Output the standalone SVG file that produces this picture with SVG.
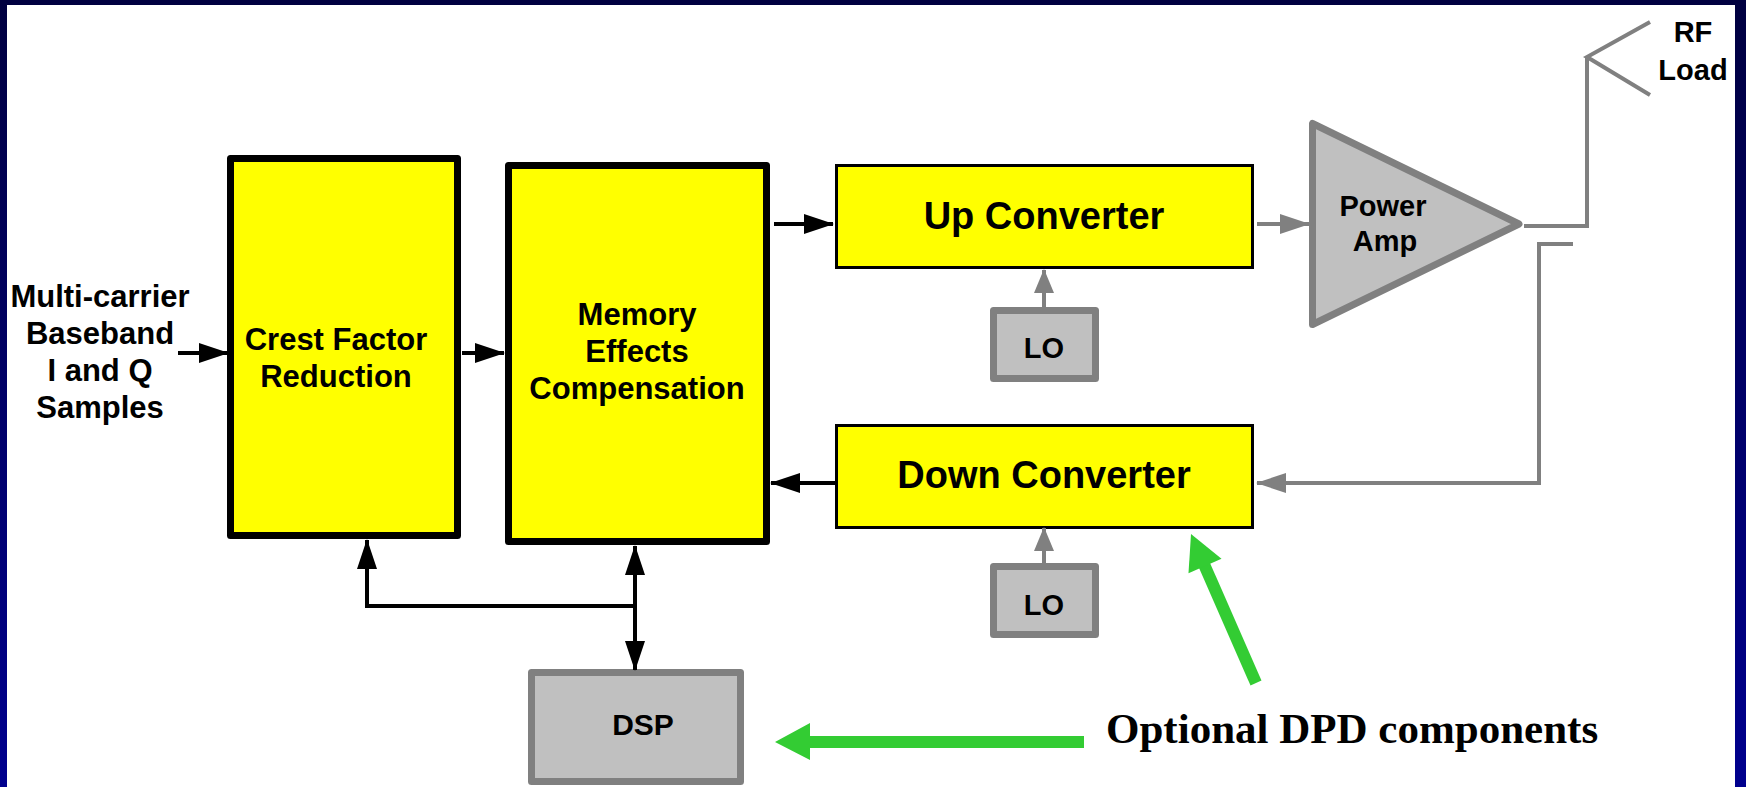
<svg xmlns="http://www.w3.org/2000/svg" width="1746" height="787" viewBox="0 0 1746 787">
<defs>
<linearGradient id="bg" x1="0" y1="0" x2="0" y2="1">
<stop offset="0" stop-color="#000040"/>
<stop offset="1" stop-color="#00008E"/>
</linearGradient>
<marker id="ab" markerUnits="userSpaceOnUse" markerWidth="30" markerHeight="20" refX="29" refY="10" orient="auto-start-reverse" viewBox="0 0 30 20">
<path d="M0,0 L30,10 L0,20 z" fill="#000"/>
</marker>
<marker id="ag" markerUnits="userSpaceOnUse" markerWidth="30" markerHeight="20" refX="29" refY="10" orient="auto" viewBox="0 0 30 20">
<path d="M0,0 L30,10 L0,20 z" fill="#808080"/>
</marker>
<marker id="agS" markerUnits="userSpaceOnUse" markerWidth="24" markerHeight="20" refX="23" refY="10" orient="auto" viewBox="0 0 24 20">
<path d="M0,0 L24,10 L0,20 z" fill="#808080"/>
</marker>
<style>
.big{fill:#FFFF00;stroke:#000;stroke-width:7;stroke-linejoin:round}
.conv{fill:#FFFF00;stroke:#000;stroke-width:3}
.gray{fill:#C0C0C0;stroke:#808080;stroke-width:7;stroke-linejoin:round}
.t{font-family:"Liberation Sans",Arial,sans-serif;font-weight:bold;fill:#000;text-anchor:middle}
.t31{font-size:31px}
.t38{font-size:38px}
.t29{font-size:29px}
.bl{fill:none;stroke:#000;stroke-width:4}
.gl{fill:none;stroke:#808080;stroke-width:4}
.green{fill:#33CC33}
</style>
</defs>

<rect x="0" y="0" width="1746" height="787" fill="url(#bg)"/>
<rect x="7" y="5" width="1728" height="782" fill="#FFFFFF"/>

<g id="input-label">
<text class="t t31" x="100" y="307">Multi-carrier</text>
<text class="t t31" x="100" y="344">Baseband</text>
<text class="t t31" x="100" y="381">I and Q</text>
<text class="t t31" x="100" y="418">Samples</text>
</g>

<g id="cfr">
<rect class="big" x="230.5" y="158.5" width="227" height="377"/>
<text class="t t31" x="336" y="350">Crest Factor</text>
<text class="t t31" x="336" y="387">Reduction</text>
</g>

<g id="mec">
<rect class="big" x="508.5" y="165.5" width="258" height="376"/>
<text class="t t31" x="637" y="325">Memory</text>
<text class="t t31" x="637" y="362">Effects</text>
<text class="t t31" x="637" y="399">Compensation</text>
</g>

<g id="upconv">
<rect class="conv" x="836.5" y="165.5" width="416" height="102"/>
<text class="t t38" x="1044" y="229">Up Converter</text>
</g>

<g id="downconv">
<rect class="conv" x="836.5" y="425.5" width="416" height="102"/>
<text class="t t38" x="1044" y="488">Down Converter</text>
</g>

<g id="lo1">
<rect class="gray" x="993.5" y="310.5" width="102" height="68"/>
<text class="t t29" x="1044" y="358">LO</text>
</g>

<g id="lo2">
<rect class="gray" x="993.5" y="566.5" width="102" height="68"/>
<text class="t t29" x="1044" y="615">LO</text>
</g>

<g id="pa">
<polygon class="gray" points="1312.5,123.5 1312.5,324.5 1519,224"/>
<text class="t t29" x="1383" y="216">Power</text>
<text class="t t29" x="1385" y="251">Amp</text>
</g>

<g id="dsp">
<rect class="gray" x="531.5" y="672.5" width="209" height="109"/>
<text class="t" style="font-size:30px" x="643" y="735">DSP</text>
</g>

<g id="rfload">
<polyline class="gl" points="1650,22 1587,57 1650,95"/>
<text class="t t29" x="1693" y="42">RF</text>
<text class="t t29" x="1693" y="80">Load</text>
</g>

<g id="connectors">
<line class="bl" x1="178" y1="353" x2="228" y2="353" marker-end="url(#ab)"/>
<line class="bl" x1="462" y1="353" x2="504" y2="353" marker-end="url(#ab)"/>
<line class="bl" x1="774" y1="224" x2="833" y2="224" marker-end="url(#ab)"/>
<line class="bl" x1="835" y1="483" x2="771" y2="483" marker-end="url(#ab)"/>
<line class="bl" x1="635" y1="546" x2="635" y2="670" marker-start="url(#ab)" marker-end="url(#ab)"/>
<polyline class="bl" points="635,606 367,606 367,540" marker-end="url(#ab)"/>
<line class="gl" x1="1257" y1="224" x2="1309" y2="224" marker-end="url(#ag)"/>
<polyline class="gl" points="1524,226 1587,226 1587,57"/>
<polyline class="gl" points="1573,244 1539,244 1539,483 1257,483" marker-end="url(#ag)"/>
<line class="gl" x1="1044" y1="307" x2="1044" y2="270" marker-end="url(#agS)"/>
<line class="gl" x1="1044" y1="563" x2="1044" y2="528" marker-end="url(#agS)"/>
</g>

<g id="callout">
<polygon class="green" points="775,742 810,723 810,736 1084,736 1084,748 810,748 810,760"/>
<line x1="1256" y1="683" x2="1203" y2="562" stroke="#33CC33" stroke-width="12"/>
<polygon class="green" points="1191,534 1221.5,558.8 1188.5,573.2"/>
<text x="1106" y="743" style="font-family:'Liberation Serif','Times New Roman',serif;font-weight:bold;font-size:43px" fill="#000">Optional DPD components</text>
</g>
</svg>
